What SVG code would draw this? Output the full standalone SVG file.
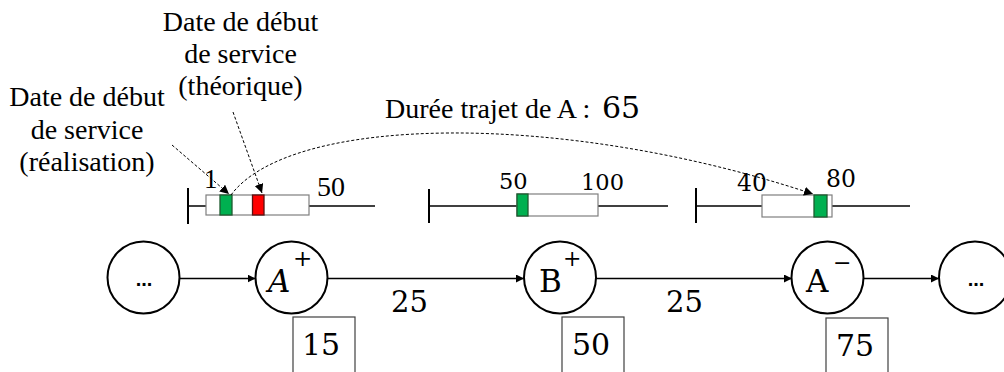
<svg xmlns="http://www.w3.org/2000/svg" width="1004" height="372" viewBox="0 0 1004 372">
<defs>
<marker id="ah" viewBox="0 0 10 10" refX="10" refY="5" markerWidth="8" markerHeight="8" markerUnits="userSpaceOnUse" orient="auto">
<path d="M0,0 L10,5 L0,10 z" fill="#000"/>
</marker>
<marker id="ahs" viewBox="0 0 10 10" refX="10" refY="5" markerWidth="9" markerHeight="9" markerUnits="userSpaceOnUse" orient="auto">
<path d="M0,0 L10,5 L0,10 z" fill="#000"/>
</marker>
</defs>
<style>
.lbl{font-family:"Liberation Serif","Times New Roman",Tinos,serif;font-size:28px;fill:#000;text-anchor:middle}
.ser{font-family:"Liberation Serif","Times New Roman",Tinos,serif;fill:#000}
.num{font-family:"DejaVu Serif",serif;fill:#000}
.tl{stroke:#000;stroke-width:1.5;fill:none}
.tick{stroke:#000;stroke-width:2;fill:none}
.win{fill:#fff;stroke:#7f7f7f;stroke-width:1.2}
.g{fill:#00b050;stroke:#1e5a2e;stroke-width:1.3}
.r{fill:#ff0000;stroke:#5a1010;stroke-width:1.3}
.node{fill:#fff;stroke:#000;stroke-width:2}
.edge{stroke:#000;stroke-width:1.3;fill:none;marker-end:url(#ah)}
.dash{stroke:#000;stroke-width:1;fill:none;stroke-dasharray:3 2;marker-end:url(#ahs)}
.box{fill:#fff;stroke:#404040;stroke-width:1.2}
.dots{font-family:"Liberation Sans",sans-serif;font-weight:bold;font-size:20px;text-anchor:middle;fill:#000}
</style>
<rect width="1004" height="372" fill="#fff"/>

<g id="label-theorique">
<text class="lbl" x="240.5" y="31">Date de début</text>
<text class="lbl" x="240.5" y="63">de service</text>
<text class="lbl" x="240.5" y="95">(théorique)</text>
</g>
<g id="label-realisation">
<text class="lbl" x="87" y="106">Date de début</text>
<text class="lbl" x="87" y="139">de service</text>
<text class="lbl" x="87" y="171">(réalisation)</text>
</g>
<g id="label-duree">
<text class="ser" x="385" y="118" font-size="28">Durée trajet de A :</text>
<text class="num" x="602" y="118" font-size="30">65</text>
</g>

<g id="timeline-1">
<line class="tl" x1="188" y1="206" x2="375" y2="206"/>
<line class="tick" x1="188" y1="188" x2="188" y2="224"/>
<rect class="win" x="206" y="195" width="103" height="20"/>
<rect class="g" x="220" y="195" width="12" height="20"/>
<rect class="r" x="252.5" y="195" width="11.5" height="20"/>
<text class="ser" x="204" y="188" font-size="27">1</text>
<text class="ser" x="317" y="196" font-size="28">50</text>
</g>

<g id="timeline-2">
<line class="tl" x1="429" y1="206" x2="668" y2="206"/>
<line class="tick" x1="429" y1="189" x2="429" y2="223"/>
<rect class="win" x="517" y="194" width="81" height="22"/>
<rect class="g" x="517" y="194" width="11" height="22"/>
<text class="num" x="499" y="189" font-size="22.5">50</text>
<text class="num" x="581" y="190" font-size="22.5">100</text>
</g>

<g id="timeline-3">
<line class="tl" x1="696" y1="206" x2="910" y2="206"/>
<line class="tick" x1="696" y1="188" x2="696" y2="223"/>
<rect class="win" x="762" y="195" width="70" height="22"/>
<rect class="g" x="814" y="195" width="13" height="22"/>
<text class="num" x="737" y="191" font-size="23.5">40</text>
<text class="num" x="826" y="187" font-size="23.5">80</text>
</g>

<g id="connectors">
<line class="edge" x1="180" y1="278.5" x2="255.5" y2="278.5"/>
<line class="edge" x1="327.5" y1="278.5" x2="524" y2="278.5"/>
<line class="edge" x1="596" y1="278.5" x2="792" y2="278.5"/>
<line class="edge" x1="863.5" y1="278.5" x2="939" y2="278.5"/>
<line class="dash" x1="172" y1="145" x2="229" y2="194"/>
<line class="dash" x1="233" y1="112" x2="262" y2="193"/>
<path class="dash" d="M231,195 C290,115 560,110 813,194"/>
</g>

<g id="node-start">
<circle class="node" cx="143.5" cy="277.5" r="36"/>
<text class="dots" x="144" y="286">...</text>
</g>
<g id="node-Aplus">
<circle class="node" cx="291.5" cy="277.5" r="36"/>
<text class="num" x="268" y="292" font-size="31" font-style="italic">A</text>
<text class="num" x="293" y="266" font-size="23">+</text>
</g>
<g id="node-Bplus">
<circle class="node" cx="560" cy="277.5" r="36"/>
<text class="num" x="539" y="292" font-size="31">B</text>
<text class="num" x="563" y="266" font-size="22">+</text>
</g>
<g id="node-Aminus">
<circle class="node" cx="827.5" cy="277.5" r="36"/>
<text class="num" x="806" y="292" font-size="31">A</text>
<text class="num" x="833" y="270" font-size="22">−</text>
</g>
<g id="node-end">
<circle class="node" cx="975" cy="277.5" r="36"/>
<text class="dots" x="976" y="286">...</text>
</g>

<g id="edge-labels">
<text class="num" x="391" y="312" font-size="29">25</text>
<text class="num" x="666" y="312" font-size="29">25</text>
</g>

<g id="box-15">
<rect class="box" x="293" y="317" width="62" height="56"/>
<text class="num" x="302" y="355" font-size="30">15</text>
</g>
<g id="box-50">
<rect class="box" x="562" y="317" width="62" height="56"/>
<text class="num" x="572" y="355" font-size="30">50</text>
</g>
<g id="box-75">
<rect class="box" x="826" y="318" width="62" height="56"/>
<text class="num" x="836" y="356" font-size="30">75</text>
</g>
</svg>
